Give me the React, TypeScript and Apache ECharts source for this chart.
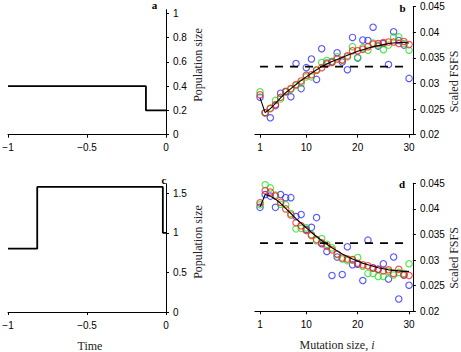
import React, { useEffect, useRef } from "react";
import * as echarts from "echarts";

// Panel a: population size history (breakpoints of the step function)
const timeA = [-1, -0.127, -0.127, 0];
const sizeA = [0.4, 0.4, 0.2, 0.2];
// Panel c
const timeC = [-1, -0.815, -0.815, -0.02, -0.02, 0];
const sizeC = [0.8, 0.8, 1.58, 1.58, 1, 1];

// Mutation sizes i
const mutationSizes = [1, 2, 3, 4, 5, 6, 7, 8, 9, 10, 11, 12, 13, 14, 15, 16, 17, 18, 19, 20, 21, 22, 23, 24, 25, 26, 27, 28, 29, 30];

// Neutral (constant size) scaled FSFS level, drawn as a dashed line
const neutralRange = [1, 30];
const neutralLevel = [0.0333, 0.0333];

// Panel b
const expectedB = [0.0272, 0.0243, 0.0251, 0.0261, 0.0272, 0.0282, 0.029, 0.0298, 0.0306, 0.0313, 0.032, 0.0327, 0.0333, 0.0338, 0.0343, 0.0347, 0.0351, 0.0355, 0.0359, 0.0363, 0.0366, 0.0369, 0.0372, 0.0374, 0.0376, 0.0378, 0.0379, 0.038, 0.038, 0.0379];
const blueB = [0.0273, 0.0243, 0.0233, 0.0257, 0.0281, 0.0284, 0.0274, 0.0339, 0.029, 0.0331, 0.0348, 0.0308, 0.0368, 0.034, 0.0343, 0.036, 0.0342, 0.0327, 0.039, 0.035, 0.0385, 0.0384, 0.041, 0.0373, 0.0378, 0.0337, 0.0401, 0.0384, 0.0375, 0.031];
const greenB = [0.0284, 0.0243, 0.0252, 0.0267, 0.027, 0.0284, 0.0289, 0.0296, 0.0301, 0.0313, 0.0313, 0.0327, 0.0341, 0.0345, 0.0343, 0.0352, 0.0346, 0.0352, 0.0372, 0.0351, 0.037, 0.0365, 0.0379, 0.0375, 0.0366, 0.0375, 0.0391, 0.0391, 0.0378, 0.0365];
const redB = [0.0278, 0.0243, 0.0251, 0.0259, 0.0273, 0.0285, 0.029, 0.0298, 0.0305, 0.0316, 0.0317, 0.0326, 0.0331, 0.0338, 0.0341, 0.0348, 0.0346, 0.0354, 0.0364, 0.0364, 0.0367, 0.0372, 0.0377, 0.0378, 0.038, 0.0381, 0.0381, 0.0378, 0.0382, 0.0376];

// Panel d
const expectedD = [0.0404, 0.0428, 0.0425, 0.0419, 0.0411, 0.0401, 0.0391, 0.0381, 0.0372, 0.0363, 0.0354, 0.0346, 0.0338, 0.0331, 0.0324, 0.0318, 0.0312, 0.0307, 0.0302, 0.0298, 0.0294, 0.0291, 0.0288, 0.0285, 0.0283, 0.0281, 0.028, 0.0279, 0.0278, 0.0278];
const blueD = [0.0403, 0.0428, 0.0425, 0.0403, 0.0428, 0.0422, 0.0422, 0.0385, 0.0389, 0.036, 0.0364, 0.0383, 0.0332, 0.0317, 0.027, 0.0306, 0.0272, 0.0326, 0.0291, 0.0292, 0.026, 0.0339, 0.0285, 0.0282, 0.0293, 0.0263, 0.0306, 0.0224, 0.0271, 0.0251];
const greenD = [0.0408, 0.0447, 0.0441, 0.0427, 0.0409, 0.0408, 0.0391, 0.0361, 0.0362, 0.0363, 0.035, 0.0338, 0.0342, 0.0331, 0.0324, 0.0311, 0.0302, 0.0299, 0.03, 0.0305, 0.0288, 0.0274, 0.0274, 0.0268, 0.0268, 0.0278, 0.0271, 0.0276, 0.0274, 0.0293];
const redD = [0.0412, 0.0436, 0.0433, 0.0425, 0.0413, 0.04, 0.0388, 0.0373, 0.0367, 0.0358, 0.0348, 0.034, 0.0334, 0.0327, 0.032, 0.0312, 0.0304, 0.0302, 0.0301, 0.0294, 0.0291, 0.0289, 0.0284, 0.0282, 0.0279, 0.0281, 0.0274, 0.0282, 0.0271, 0.027];

// Tick values
const timeTicks = [-1, -0.5, 0];
const sizeTicksA = [0, 0.2, 0.4, 0.6, 0.8, 1];
const sizeTicksC = [0, 0.5, 1, 1.5];
const mutationTicks = [1, 10, 20, 30];
const fsfsTicks = [0.02, 0.025, 0.03, 0.035, 0.04, 0.045];

const SANS = "'Liberation Sans', Arial, Helvetica, sans-serif";
const SERIF = "'Liberation Serif', 'Times New Roman', Times, serif";

const pairs = (xs: number[], ys: number[]) => xs.map((x, k) => [x, ys[k]]);
const minus = (v: number) => String(v).replace("-", "\u2212");

function xTimeAxis(gridIndex: number) {
  return {
    type: "value",
    gridIndex,
    position: "bottom",
    min: -1,
    max: 0,
    axisLine: { show: true, onZero: false, lineStyle: { color: "#000", width: 1 } },
    axisTick: { show: true, length: 3, customValues: timeTicks, lineStyle: { color: "#000", width: 1 } },
    axisLabel: {
      customValues: timeTicks,
      margin: 8,
      formatter: (v: number) => minus(v),
      fontFamily: SANS,
      fontSize: 10,
      color: "#000",
    },
    splitLine: { show: false },
  };
}

function xMutAxis(gridIndex: number) {
  return {
    type: "value",
    gridIndex,
    position: "bottom",
    min: 0,
    max: 30.75,
    axisLine: { show: true, onZero: false, lineStyle: { color: "#000", width: 1 } },
    axisTick: { show: true, length: 3, customValues: mutationTicks, lineStyle: { color: "#000", width: 1 } },
    axisLabel: { customValues: mutationTicks, margin: 8, fontFamily: SANS, fontSize: 10, color: "#000" },
    splitLine: { show: false },
  };
}

function yAxis(gridIndex: number, min: number, max: number, ticks: number[]) {
  return {
    type: "value",
    gridIndex,
    position: "right",
    min,
    max,
    axisLine: { show: true, onZero: false, lineStyle: { color: "#000", width: 1 } },
    axisTick: { show: true, length: 3, customValues: ticks, lineStyle: { color: "#000", width: 1 } },
    axisLabel: { customValues: ticks, margin: 7, fontFamily: SANS, fontSize: 10, color: "#000" },
    splitLine: { show: false },
  };
}

function stepSeries(axisIndex: number, xs: number[], ys: number[]) {
  return {
    type: "line",
    xAxisIndex: axisIndex,
    yAxisIndex: axisIndex,
    data: pairs(xs, ys),
    symbol: "none",
    lineStyle: { color: "#000", width: 1.8 },
    silent: true,
  };
}

function fsfsSeries(axisIndex: number, expected: number[], blue: number[], green: number[], red: number[]) {
  const circles = (values: number[], color: string) => ({
    type: "scatter",
    xAxisIndex: axisIndex,
    yAxisIndex: axisIndex,
    data: pairs(mutationSizes, values),
    symbol: "circle",
    symbolSize: 6.4,
    itemStyle: { color: "rgba(0,0,0,0)", borderColor: color, borderWidth: 1.1 },
    silent: true,
  });
  return [
    {
      type: "line",
      xAxisIndex: axisIndex,
      yAxisIndex: axisIndex,
      data: pairs(neutralRange, neutralLevel),
      symbol: "none",
      lineStyle: { color: "#000", width: 1.7, type: [8, 7] },
      silent: true,
    },
    {
      type: "line",
      xAxisIndex: axisIndex,
      yAxisIndex: axisIndex,
      data: pairs(mutationSizes, expected),
      symbol: "none",
      lineStyle: { color: "#000", width: 1.1 },
      silent: true,
    },
    circles(blue, "#2a2aff"),
    circles(green, "#1ee01e"),
    circles(red, "#ff1a1a"),
  ];
}

function text(x: number, y: number, t: string, opts: any = {}) {
  return {
    type: "text",
    x,
    y,
    rotation: opts.rotation || 0,
    style: {
      text: t,
      fontFamily: SERIF,
      fontSize: opts.fontSize || 12,
      fontWeight: opts.fontWeight || "normal",
      fill: opts.fill || "#222",
      align: "center",
      verticalAlign: "middle",
      rich: opts.rich,
    },
    silent: true,
  };
}

export default function App() {
  const ref = useRef<HTMLDivElement>(null);
  useEffect(() => {
    if (!ref.current) return;
    const chart = echarts.init(ref.current, undefined, { renderer: "svg" });
    const option: any = {
      animation: false,
      backgroundColor: "#fff",
      grid: [
        { left: 8, top: 9.7, width: 158, height: 125, containLabel: false, outerBoundsMode: "none" },
        { left: 254.9, top: 6.7, width: 158, height: 128, containLabel: false, outerBoundsMode: "none" },
        { left: 8, top: 183.8, width: 158, height: 128.2, containLabel: false, outerBoundsMode: "none" },
        { left: 254.9, top: 183.3, width: 158, height: 128, containLabel: false, outerBoundsMode: "none" },
      ],
      xAxis: [xTimeAxis(0), xMutAxis(1), xTimeAxis(2), xMutAxis(3)],
      yAxis: [
        yAxis(0, 0, 1.03, sizeTicksA),
        yAxis(1, 0.02, 0.045, fsfsTicks),
        yAxis(2, 0, 1.62, sizeTicksC),
        yAxis(3, 0.02, 0.045, fsfsTicks),
      ],
      series: [
        stepSeries(0, timeA, sizeA),
        ...fsfsSeries(1, expectedB, blueB, greenB, redB),
        stepSeries(2, timeC, sizeC),
        ...fsfsSeries(3, expectedD, blueD, greenD, redD),
      ],
      graphic: [
        text(198, 65, "Population size", { rotation: Math.PI / 2 }),
        text(198, 242, "Population size", { rotation: Math.PI / 2 }),
        text(454, 81.5, "Scaled FSFS", { rotation: Math.PI / 2 }),
        text(454, 258, "Scaled FSFS", { rotation: Math.PI / 2 }),
        text(90, 346, "Time"),
        text(337, 345, "Mutation size, {it|i}", { rich: { it: { fontStyle: "italic", fontFamily: SERIF, fontSize: 12, fill: "#222" } } }),
        text(154.5, 5, "a", { fontWeight: "bold", fontSize: 11, fill: "#000" }),
        text(402.5, 8, "b", { fontWeight: "bold", fontSize: 11, fill: "#000" }),
        text(164, 180, "c", { fontWeight: "bold", fontSize: 11, fill: "#000" }),
        text(402, 184, "d", { fontWeight: "bold", fontSize: 11, fill: "#000" }),
      ],
    };
    chart.setOption(option);
    return () => chart.dispose();
  }, []);
  return (
    <div
      ref={ref}
      style={{ position: "absolute", left: 0, top: 0, width: 461, height: 352, background: "#fff" }}
    />
  );
}
